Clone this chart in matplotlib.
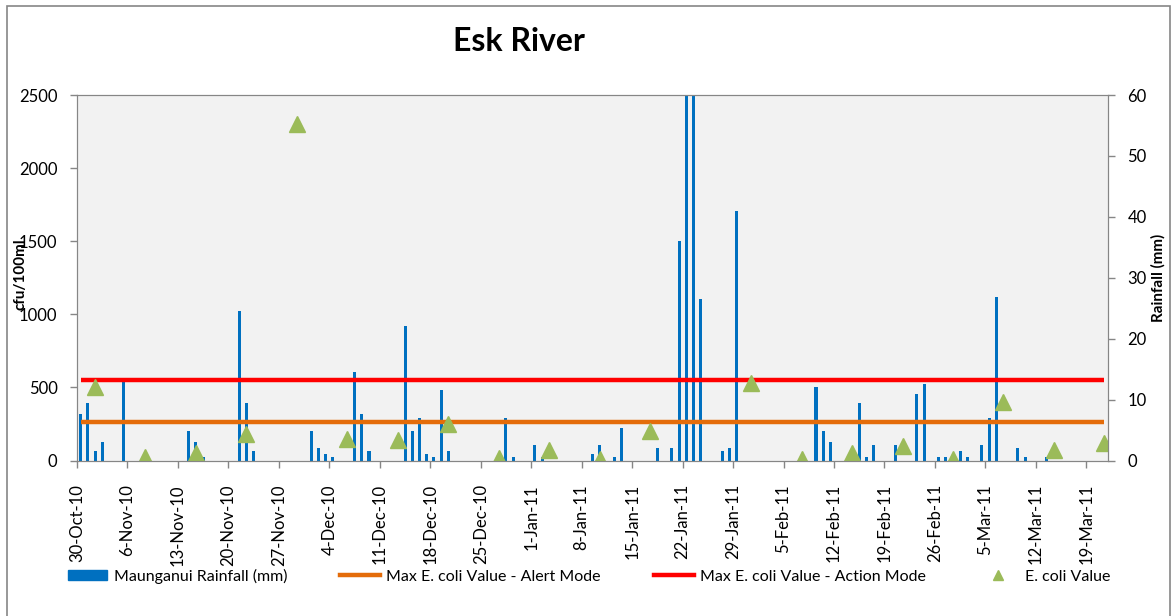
import numpy as np
import pandas as pd
import matplotlib
matplotlib.use('Agg')
import matplotlib.pyplot as plt
from matplotlib.lines import Line2D
from matplotlib.patches import Patch, Rectangle

plt.rcParams['font.family'] = ['Lato', 'DejaVu Sans']

# daily rainfall at Maunganui (mm)
rain_dates = ['2010-10-30', '2010-10-31', '2010-11-01', '2010-11-02', '2010-11-05',
              '2010-11-14', '2010-11-15', '2010-11-16', '2010-11-21', '2010-11-22',
              '2010-11-23', '2010-12-01', '2010-12-02', '2010-12-03', '2010-12-04',
              '2010-12-07', '2010-12-08', '2010-12-09', '2010-12-14', '2010-12-15',
              '2010-12-16', '2010-12-17', '2010-12-18', '2010-12-19', '2010-12-20',
              '2010-12-28', '2010-12-29', '2011-01-01', '2011-01-02', '2011-01-09',
              '2011-01-10', '2011-01-12', '2011-01-13', '2011-01-18', '2011-01-20',
              '2011-01-21', '2011-01-22', '2011-01-23', '2011-01-24', '2011-01-27',
              '2011-01-28', '2011-01-29', '2011-02-09', '2011-02-10', '2011-02-11',
              '2011-02-15', '2011-02-16', '2011-02-17', '2011-02-20', '2011-02-23',
              '2011-02-24', '2011-02-26', '2011-02-27', '2011-03-01', '2011-03-02',
              '2011-03-04', '2011-03-05', '2011-03-06', '2011-03-09', '2011-03-10',
              '2011-03-13']
rain_mm = [7.6, 9.5, 1.5, 3.0, 13.5,
           4.9, 3.0, 0.5, 24.6, 9.5,
           1.5, 4.9, 2.0, 1.0, 0.5,
           14.5, 7.6, 1.5, 22.1, 4.9,
           7.0, 1.0, 0.5, 11.6, 1.5,
           7.0, 0.5, 2.5, 0.5, 1.0,
           2.5, 0.5, 5.3, 2.0, 2.0,
           36.0, 70.0, 65.0, 26.5, 1.5,
           2.0, 41.0, 12.1, 4.9, 3.0,
           9.5, 0.5, 2.5, 2.5, 10.9,
           12.6, 0.5, 0.5, 1.5, 0.5,
           2.5, 7.0, 26.9, 2.0, 0.5,
           0.5]

# weekly E. coli samples (cfu/100ml)
ecoli_dates = ['2010-11-01', '2010-11-08', '2010-11-15', '2010-11-22', '2010-11-29',
               '2010-12-06', '2010-12-13', '2010-12-20', '2010-12-27', '2011-01-03',
               '2011-01-10', '2011-01-17', '2011-01-31', '2011-02-07', '2011-02-14',
               '2011-02-21', '2011-02-28', '2011-03-07', '2011-03-14', '2011-03-21']
ecoli_val = [500, 22, 52, 180, 2300,
             150, 140, 250, 20, 70,
             10, 200, 530, 10, 50,
             100, 10, 400, 75, 120]

alert_level = 260
action_level = 550

tick_labels = ['30-Oct-10', '6-Nov-10', '13-Nov-10', '20-Nov-10', '27-Nov-10',
               '4-Dec-10', '11-Dec-10', '18-Dec-10', '25-Dec-10', '1-Jan-11',
               '8-Jan-11', '15-Jan-11', '22-Jan-11', '29-Jan-11', '5-Feb-11',
               '12-Feb-11', '19-Feb-11', '26-Feb-11', '5-Mar-11', '12-Mar-11',
               '19-Mar-11']

rain_x = pd.to_datetime(rain_dates) + pd.Timedelta(hours=12)
ecoli_x = pd.to_datetime(ecoli_dates) + pd.Timedelta(hours=12)
tick_x = pd.to_datetime(tick_labels, format='%d-%b-%y')
x_start = pd.Timestamp('2010-10-30')
x_end = pd.Timestamp('2011-03-22')

blue = '#0070C0'
orange = '#E46C0A'
red = '#FF0000'
green = '#9BBB59'
grey = '#868686'

fig = plt.figure(figsize=(11.73, 6.16), dpi=100)
fig.add_artist(Rectangle((7 / 1173, -0.02), 1163 / 1173, 1.02 - 6 / 616,
                         transform=fig.transFigure, fill=False,
                         edgecolor=grey, linewidth=1.2))

axr = fig.add_axes([77 / 1173, 1 - 460.5 / 616, 1031 / 1173, 365.5 / 616])
axr.set_facecolor('#F2F2F2')
axr.bar(rain_x, rain_mm, width=0.42, color=blue, zorder=2)
axr.set_ylim(0, 60)
axr.set_yticks(range(0, 61, 10))

axl = axr.twinx()
axl.yaxis.tick_left()
axr.yaxis.tick_right()
axl.plot([rain_x[0], ecoli_x[-1]], [alert_level] * 2, color=orange, lw=3.2,
         solid_capstyle='butt')
axl.plot([rain_x[0], ecoli_x[-1]], [action_level] * 2, color=red, lw=3.2,
         solid_capstyle='butt')
axl.plot(ecoli_x, ecoli_val, linestyle='none', marker='^', markersize=11,
         color=green, markeredgecolor=green)
axl.set_ylim(0, 2500)
axl.set_yticks(range(0, 2501, 500))

axr.set_xlim(x_start, x_end)
axr.set_xticks(tick_x)
axr.set_xticklabels(tick_labels, rotation=90, fontsize=12)

for a in (axr, axl):
    for s in a.spines.values():
        s.set_color(grey)
    a.tick_params(colors=grey, labelcolor='black', length=5, width=1,
                  labelsize=12, pad=9)
axr.tick_params(axis='x', pad=12)

fig.text(0.442, 0.932, 'Esk River', fontsize=23, fontweight='bold',
         ha='center', va='center')
fig.text(20 / 1173, 1 - 274 / 616, 'cfu/100ml', rotation=90, fontsize=11,
         fontweight='bold', ha='center', va='center')
fig.text(1158 / 1173, 1 - 278 / 616, 'Rainfall (mm)', rotation=90, fontsize=11,
         fontweight='bold', ha='center', va='center')

handles = [Patch(color=blue),
           Line2D([], [], color=orange, lw=3.2),
           Line2D([], [], color=red, lw=3.2),
           Line2D([], [], linestyle='none', marker='^', markersize=7, color=green)]
labels = ['Maunganui Rainfall (mm)', 'Max E. coli Value - Alert Mode',
          'Max E. coli Value - Action Mode', 'E. coli Value']
fig.legend(handles, labels, loc='center', bbox_to_anchor=(0.502, 1 - 576 / 616),
           ncol=4, frameon=False, fontsize=11.5, handlelength=2.5,
           handleheight=0.6, handletextpad=0.4, columnspacing=3.3)

fig.savefig('out.png', dpi=100)
